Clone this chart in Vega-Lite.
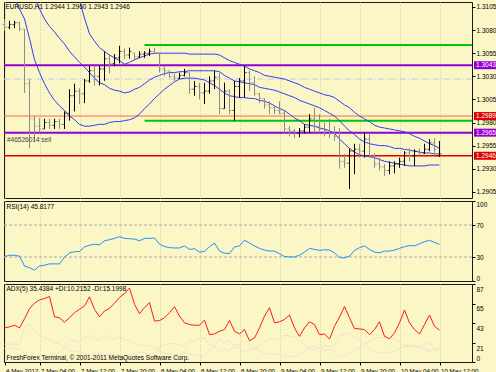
{
"$schema": "https://vega.github.io/schema/vega-lite/v6.json",
"background": "#fbf6c5",
"padding": {"left": 2, "top": 1, "right": 0, "bottom": 0},
"spacing": 1,
"config": {
  "view": {"stroke": "#1a1a1a", "strokeWidth": 1, "fill": "#fbf6c5"},
  "font": "Liberation Sans",
  "axis": {"title": null, "labelFont": "Liberation Sans", "labelFontSize": 6.5, "labelColor": "#000000", "tickColor": "#000000", "domain": false, "gridColor": "#cec794", "gridDash": [1, 2], "gridOpacity": 1, "labelOverlap": false, "tickCount": 50},
  "text": {"font": "Liberation Sans", "fontSize": 6.5}
},
"datasets": {
"b": [
{"i":0,"o":1.3086,"h":1.3092,"l":1.3079,"c":1.3083,"u":1.3172,"m":1.3157,"d":1.3139,"r":30.5,"a":38,"p":15,"n":20},
{"i":1,"o":1.3083,"h":1.3090,"l":1.3081,"c":1.3086,"u":1.3173,"m":1.3155,"d":1.3126,"r":32.2,"a":39.2,"p":15,"n":20},
{"i":2,"o":1.3086,"h":1.3090,"l":1.3082,"c":1.3088,"u":1.3174,"m":1.3150,"d":1.3114,"r":32.2,"a":41,"p":15,"n":20},
{"i":3,"o":1.3088,"h":1.3089,"l":1.3079,"c":1.3081,"u":1.3176,"m":1.3144,"d":1.3103,"r":31,"a":38,"p":15,"n":20},
{"i":4,"o":1.3081,"h":1.3081,"l":1.3012,"c":1.3022,"u":1.3179,"m":1.3135,"d":1.3092,"r":18.8,"a":48.2,"p":8,"n":38},
{"i":5,"o":1.3022,"h":1.3027,"l":1.2952,"c":1.2984,"u":1.3183,"m":1.3124,"d":1.3071,"r":16.5,"a":59.5,"p":5,"n":42},
{"i":6,"o":1.2984,"h":1.2987,"l":1.2960,"c":1.2976,"u":1.3187,"m":1.3114,"d":1.3048,"r":13.7,"a":65.6,"p":5,"n":36},
{"i":7,"o":1.2976,"h":1.2985,"l":1.2969,"c":1.2973,"u":1.3189,"m":1.3103,"d":1.3034,"r":18.8,"a":69.3,"p":6,"n":30},
{"i":8,"o":1.2973,"h":1.2984,"l":1.2973,"c":1.2980,"u":1.3187,"m":1.3092,"d":1.3022,"r":19.7,"a":70.8,"p":7,"n":27},
{"i":9,"o":1.2980,"h":1.2984,"l":1.2973,"c":1.2977,"u":1.3183,"m":1.3084,"d":1.3012,"r":21.4,"a":73.1,"p":8,"n":25},
{"i":10,"o":1.2977,"h":1.2984,"l":1.2973,"c":1.2981,"u":1.3176,"m":1.3078,"d":1.3004,"r":21.4,"a":50.5,"p":9,"n":22},
{"i":11,"o":1.2981,"h":1.2984,"l":1.2973,"c":1.2978,"u":1.3168,"m":1.3071,"d":1.2998,"r":21.4,"a":49.3,"p":10,"n":20},
{"i":12,"o":1.2978,"h":1.2992,"l":1.2973,"c":1.2990,"u":1.3157,"m":1.3065,"d":1.2993,"r":29.7,"a":44.4,"p":18,"n":16},
{"i":13,"o":1.2990,"h":1.3016,"l":1.2982,"c":1.3009,"u":1.3144,"m":1.3057,"d":1.2987,"r":35.2,"a":49.3,"p":25,"n":13},
{"i":14,"o":1.3009,"h":1.3022,"l":1.2992,"c":1.3014,"u":1.3128,"m":1.3051,"d":1.2983,"r":36.5,"a":55,"p":24,"n":12},
{"i":15,"o":1.3014,"h":1.3017,"l":1.3000,"c":1.3011,"u":1.3112,"m":1.3045,"d":1.2978,"r":37,"a":58.8,"p":22,"n":11},
{"i":16,"o":1.3011,"h":1.3027,"l":1.3001,"c":1.3025,"u":1.3093,"m":1.3040,"d":1.2976,"r":42.6,"a":62.5,"p":26,"n":10},
{"i":17,"o":1.3025,"h":1.3041,"l":1.3023,"c":1.3036,"u":1.3076,"m":1.3034,"d":1.2976,"r":44.7,"a":72.7,"p":30,"n":8},
{"i":18,"o":1.3036,"h":1.3041,"l":1.3020,"c":1.3030,"u":1.3068,"m":1.3028,"d":1.2977,"r":46,"a":58.8,"p":26,"n":9},
{"i":19,"o":1.3030,"h":1.3041,"l":1.3020,"c":1.3038,"u":1.3061,"m":1.3023,"d":1.2978,"r":45.2,"a":50.5,"p":24,"n":10},
{"i":20,"o":1.3038,"h":1.3057,"l":1.3025,"c":1.3049,"u":1.3057,"m":1.3021,"d":1.2978,"r":50.3,"a":56.9,"p":30,"n":8},
{"i":21,"o":1.3049,"h":1.3054,"l":1.3033,"c":1.3044,"u":1.3053,"m":1.3017,"d":1.2980,"r":51.6,"a":59.9,"p":27,"n":9},
{"i":22,"o":1.3044,"h":1.3054,"l":1.3041,"c":1.3050,"u":1.3050,"m":1.3015,"d":1.2981,"r":53.3,"a":65.6,"p":25,"n":8},
{"i":23,"o":1.3050,"h":1.3063,"l":1.3044,"c":1.3057,"u":1.3047,"m":1.3014,"d":1.2981,"r":55.5,"a":72,"p":28,"n":7},
{"i":24,"o":1.3057,"h":1.3060,"l":1.3049,"c":1.3053,"u":1.3043,"m":1.3012,"d":1.2982,"r":53.3,"a":76.5,"p":25,"n":7},
{"i":25,"o":1.3053,"h":1.3061,"l":1.3049,"c":1.3057,"u":1.3045,"m":1.3013,"d":1.2983,"r":52.9,"a":82.5,"p":24,"n":8},
{"i":26,"o":1.3055,"h":1.3055,"l":1.3047,"c":1.3051,"u":1.3048,"m":1.3016,"d":1.2985,"r":52.4,"a":64.4,"p":20,"n":9},
{"i":27,"o":1.3051,"h":1.3057,"l":1.3050,"c":1.3054,"u":1.3050,"m":1.3018,"d":1.2989,"r":50.3,"a":53.9,"p":18,"n":11},
{"i":28,"o":1.3054,"h":1.3057,"l":1.3050,"c":1.3055,"u":1.3052,"m":1.3022,"d":1.2995,"r":53.3,"a":60.6,"p":19,"n":10},
{"i":29,"o":1.3055,"h":1.3060,"l":1.3052,"c":1.3057,"u":1.3054,"m":1.3026,"d":1.3000,"r":53.3,"a":66.3,"p":18,"n":9},
{"i":30,"o":1.3057,"h":1.3061,"l":1.3054,"c":1.3055,"u":1.3055,"m":1.3029,"d":1.3006,"r":53.7,"a":45.6,"p":17,"n":9},
{"i":31,"o":1.3055,"h":1.3055,"l":1.3034,"c":1.3038,"u":1.3055,"m":1.3031,"d":1.3011,"r":46,"a":46.3,"p":12,"n":17},
{"i":32,"o":1.3038,"h":1.3041,"l":1.3030,"c":1.3036,"u":1.3055,"m":1.3033,"d":1.3016,"r":43,"a":49.3,"p":10,"n":19},
{"i":33,"o":1.3036,"h":1.3036,"l":1.3028,"c":1.3030,"u":1.3055,"m":1.3034,"d":1.3020,"r":41.7,"a":55,"p":9,"n":20},
{"i":34,"o":1.3030,"h":1.3033,"l":1.3025,"c":1.3028,"u":1.3055,"m":1.3034,"d":1.3024,"r":41.3,"a":61.8,"p":8,"n":21},
{"i":35,"o":1.3028,"h":1.3034,"l":1.3027,"c":1.3031,"u":1.3055,"m":1.3035,"d":1.3027,"r":41.3,"a":51.2,"p":9,"n":19},
{"i":36,"o":1.3031,"h":1.3038,"l":1.3030,"c":1.3034,"u":1.3055,"m":1.3035,"d":1.3028,"r":43.9,"a":43.7,"p":11,"n":17},
{"i":37,"o":1.3034,"h":1.3034,"l":1.3011,"c":1.3016,"u":1.3054,"m":1.3036,"d":1.3028,"r":39.5,"a":41.8,"p":8,"n":24},
{"i":38,"o":1.3016,"h":1.3025,"l":1.3009,"c":1.3019,"u":1.3054,"m":1.3036,"d":1.3028,"r":40.4,"a":41,"p":8,"n":23},
{"i":39,"o":1.3019,"h":1.3023,"l":1.3005,"c":1.3012,"u":1.3054,"m":1.3036,"d":1.3027,"r":36.1,"a":41,"p":7,"n":26},
{"i":40,"o":1.3012,"h":1.3023,"l":1.3000,"c":1.3014,"u":1.3054,"m":1.3036,"d":1.3026,"r":37,"a":46.7,"p":7,"n":27},
{"i":41,"o":1.3014,"h":1.3030,"l":1.3011,"c":1.3025,"u":1.3054,"m":1.3036,"d":1.3023,"r":43,"a":30.5,"p":14,"n":20},
{"i":42,"o":1.3025,"h":1.3036,"l":1.3016,"c":1.3029,"u":1.3054,"m":1.3036,"d":1.3020,"r":47.3,"a":31.3,"p":16,"n":17},
{"i":43,"o":1.3029,"h":1.3034,"l":1.2989,"c":1.2995,"u":1.3053,"m":1.3035,"d":1.3016,"r":37.4,"a":34.3,"p":12,"n":26},
{"i":44,"o":1.2995,"h":1.3023,"l":1.2995,"c":1.3014,"u":1.3050,"m":1.3031,"d":1.3012,"r":34.8,"a":36.2,"p":14,"n":22},
{"i":45,"o":1.3014,"h":1.3016,"l":1.2989,"c":1.2993,"u":1.3047,"m":1.3028,"d":1.3009,"r":34.3,"a":46.3,"p":12,"n":24},
{"i":46,"o":1.2993,"h":1.3025,"l":1.2982,"c":1.3019,"u":1.3045,"m":1.3025,"d":1.3008,"r":42.6,"a":34.3,"p":20,"n":17},
{"i":47,"o":1.3019,"h":1.3028,"l":1.3007,"c":1.3025,"u":1.3043,"m":1.3024,"d":1.3007,"r":43.9,"a":31.3,"p":19,"n":15},
{"i":48,"o":1.3025,"h":1.3041,"l":1.3007,"c":1.3034,"u":1.3041,"m":1.3023,"d":1.3007,"r":51,"a":36.2,"p":24,"n":12},
{"i":49,"o":1.3034,"h":1.3036,"l":1.3014,"c":1.3023,"u":1.3038,"m":1.3022,"d":1.3006,"r":47.5,"a":23.7,"p":20,"n":13},
{"i":50,"o":1.3023,"h":1.3030,"l":1.3009,"c":1.3011,"u":1.3036,"m":1.3021,"d":1.3006,"r":43.9,"a":26.7,"p":16,"n":15},
{"i":51,"o":1.3011,"h":1.3012,"l":1.3001,"c":1.3006,"u":1.3034,"m":1.3018,"d":1.3004,"r":40.8,"a":38,"p":12,"n":18},
{"i":52,"o":1.3006,"h":1.3006,"l":1.2995,"c":1.2999,"u":1.3031,"m":1.3017,"d":1.3003,"r":38.7,"a":51.2,"p":10,"n":22},
{"i":53,"o":1.2999,"h":1.3003,"l":1.2989,"c":1.2996,"u":1.3030,"m":1.3016,"d":1.3001,"r":37.4,"a":60.6,"p":9,"n":25},
{"i":54,"o":1.2996,"h":1.2998,"l":1.2989,"c":1.2993,"u":1.3029,"m":1.3015,"d":1.2998,"r":37.4,"a":43.7,"p":8,"n":26},
{"i":55,"o":1.2993,"h":1.3003,"l":1.2989,"c":1.2990,"u":1.3028,"m":1.3013,"d":1.2995,"r":34,"a":44.8,"p":9,"n":24},
{"i":56,"o":1.2990,"h":1.2993,"l":1.2968,"c":1.2973,"u":1.3027,"m":1.3011,"d":1.2993,"r":30.5,"a":47.5,"p":7,"n":30},
{"i":57,"o":1.2973,"h":1.2976,"l":1.2965,"c":1.2971,"u":1.3025,"m":1.3009,"d":1.2989,"r":30.1,"a":52.4,"p":6,"n":29},
{"i":58,"o":1.2971,"h":1.2973,"l":1.2963,"c":1.2968,"u":1.3023,"m":1.3007,"d":1.2985,"r":30.1,"a":38,"p":6,"n":28},
{"i":59,"o":1.2968,"h":1.2974,"l":1.2964,"c":1.2971,"u":1.3021,"m":1.3004,"d":1.2982,"r":32.2,"a":28.6,"p":8,"n":24},
{"i":60,"o":1.2971,"h":1.2978,"l":1.2968,"c":1.2975,"u":1.3018,"m":1.3002,"d":1.2978,"r":36.1,"a":38,"p":12,"n":20},
{"i":61,"o":1.2975,"h":1.2989,"l":1.2969,"c":1.2984,"u":1.3016,"m":1.3000,"d":1.2977,"r":40.8,"a":44.8,"p":16,"n":15},
{"i":62,"o":1.2984,"h":1.2996,"l":1.2969,"c":1.2976,"u":1.3014,"m":1.2998,"d":1.2976,"r":39.5,"a":41.8,"p":18,"n":14},
{"i":63,"o":1.2976,"h":1.2989,"l":1.2969,"c":1.2973,"u":1.3012,"m":1.2996,"d":1.2974,"r":38.3,"a":30.5,"p":16,"n":15},
{"i":64,"o":1.2973,"h":1.2980,"l":1.2965,"c":1.2971,"u":1.3010,"m":1.2993,"d":1.2973,"r":39.1,"a":31.3,"p":13,"n":18},
{"i":65,"o":1.2971,"h":1.2984,"l":1.2963,"c":1.2968,"u":1.3009,"m":1.2990,"d":1.2971,"r":38.7,"a":25.6,"p":14,"n":17},
{"i":66,"o":1.2968,"h":1.2976,"l":1.2960,"c":1.2965,"u":1.3007,"m":1.2987,"d":1.2968,"r":35.2,"a":39.9,"p":11,"n":19},
{"i":67,"o":1.2965,"h":1.2974,"l":1.2930,"c":1.2938,"u":1.3003,"m":1.2982,"d":1.2962,"r":29.2,"a":50.1,"p":7,"n":30},
{"i":68,"o":1.2938,"h":1.2946,"l":1.2931,"c":1.2936,"u":1.2999,"m":1.2976,"d":1.2957,"r":28.8,"a":61.8,"p":6,"n":31},
{"i":69,"o":1.2936,"h":1.2952,"l":1.2908,"c":1.2949,"u":1.2996,"m":1.2971,"d":1.2952,"r":31,"a":49.3,"p":10,"n":33},
{"i":70,"o":1.2949,"h":1.2957,"l":1.2924,"c":1.2951,"u":1.2991,"m":1.2967,"d":1.2948,"r":38.3,"a":37.3,"p":14,"n":27},
{"i":71,"o":1.2951,"h":1.2957,"l":1.2942,"c":1.2949,"u":1.2987,"m":1.2962,"d":1.2945,"r":41.7,"a":36.9,"p":16,"n":24},
{"i":72,"o":1.2949,"h":1.2969,"l":1.2942,"c":1.2962,"u":1.2984,"m":1.2959,"d":1.2944,"r":43.9,"a":36.2,"p":20,"n":20},
{"i":73,"o":1.2962,"h":1.2968,"l":1.2942,"c":1.2944,"u":1.2981,"m":1.2957,"d":1.2943,"r":39.5,"a":30.5,"p":14,"n":23},
{"i":74,"o":1.2944,"h":1.2947,"l":1.2931,"c":1.2935,"u":1.2977,"m":1.2956,"d":1.2942,"r":36.1,"a":36.2,"p":11,"n":27},
{"i":75,"o":1.2935,"h":1.2942,"l":1.2928,"c":1.2932,"u":1.2975,"m":1.2955,"d":1.2940,"r":35.2,"a":44.8,"p":10,"n":27},
{"i":76,"o":1.2932,"h":1.2935,"l":1.2922,"c":1.2928,"u":1.2974,"m":1.2955,"d":1.2938,"r":37.4,"a":28.6,"p":10,"n":28},
{"i":77,"o":1.2928,"h":1.2938,"l":1.2924,"c":1.2933,"u":1.2973,"m":1.2954,"d":1.2937,"r":37.4,"a":26,"p":11,"n":26},
{"i":78,"o":1.2933,"h":1.2938,"l":1.2925,"c":1.2935,"u":1.2972,"m":1.2952,"d":1.2936,"r":38.7,"a":32.4,"p":12,"n":25},
{"i":79,"o":1.2935,"h":1.2942,"l":1.2931,"c":1.2938,"u":1.2971,"m":1.2952,"d":1.2935,"r":40.8,"a":43.7,"p":15,"n":22},
{"i":80,"o":1.2938,"h":1.2949,"l":1.2933,"c":1.2947,"u":1.2970,"m":1.2951,"d":1.2934,"r":43,"a":58,"p":18,"n":18},
{"i":81,"o":1.2947,"h":1.2952,"l":1.2938,"c":1.2944,"u":1.2968,"m":1.2950,"d":1.2933,"r":44.3,"a":43.7,"p":17,"n":19},
{"i":82,"o":1.2944,"h":1.2951,"l":1.2933,"c":1.2949,"u":1.2965,"m":1.2949,"d":1.2933,"r":43.9,"a":36.2,"p":19,"n":17},
{"i":83,"o":1.2949,"h":1.2952,"l":1.2944,"c":1.2947,"u":1.2963,"m":1.2948,"d":1.2933,"r":46.5,"a":31.3,"p":17,"n":16},
{"i":84,"o":1.2947,"h":1.2957,"l":1.2946,"c":1.2951,"u":1.2960,"m":1.2947,"d":1.2933,"r":49.1,"a":41.8,"p":20,"n":14},
{"i":85,"o":1.2951,"h":1.2962,"l":1.2949,"c":1.2958,"u":1.2957,"m":1.2947,"d":1.2934,"r":50.9,"a":52.4,"p":22,"n":12},
{"i":86,"o":1.2958,"h":1.2963,"l":1.2947,"c":1.2951,"u":1.2955,"m":1.2946,"d":1.2934,"r":48.2,"a":39.9,"p":14,"n":15},
{"i":87,"o":1.2944,"h":1.2960,"l":1.2943,"c":1.2946,"u":1.2952,"m":1.2946,"d":1.2934,"r":45.8177,"a":35.4384,"p":10.2152,"n":15.1998}
],
"lv": [
{"k":"trend","p":1.3064,"i":28,"b":93.5},
{"k":"level","p":1.3042,"i":-0.1,"b":93.5},
{"k":"ref","p":1.3027,"i":-0.1,"b":93.5},
{"k":"alert","p":1.2987,"i":-0.1,"b":93.5},
{"k":"trend","p":1.2982,"i":28,"b":93.5},
{"k":"level","p":1.2969,"i":-0.1,"b":93.5},
{"k":"price","p":1.2944,"i":-0.1,"b":93.5}
],
"bx": [
{"k":"level","p":1.3042,"t":"1.3043"},
{"k":"alert","p":1.2987,"t":"1.2989"},
{"k":"level","p":1.2969,"t":"1.2965"},
{"k":"price","p":1.2944,"t":"1.2946"}
]
},
"vconcat": [
{
 "width": 468, "height": 196,
 "layer": [
  {"data": {"name": "lv"}, "transform": [{"filter": "datum.k == 'ref'"}],
   "mark": {"type": "rule", "color": "#c3c8ea", "strokeWidth": 1, "strokeDash": [6, 2, 1, 2]},
   "encoding": {
    "x": {"field": "i", "type": "quantitative", "scale": {"domain": [-0.1, 93.5], "nice": false, "zero": false},
          "axis": {"values": [0,7,15,23,31,39,47,55,63,71,79,87], "tickCount": 50, "labels": false, "ticks": false, "grid": true}},
    "x2": {"field": "b"},
    "y": {"field": "p", "type": "quantitative", "scale": {"domain": [1.28983, 1.31104], "nice": false, "zero": false},
          "axis": {"orient": "right", "values": [1.3105,1.308,1.3055,1.303,1.3005,1.298,1.2955,1.293,1.2905], "tickCount": 50, "format": ".4f", "tickSize": 3, "labelPadding": 1, "grid": false, "labelBaseline": "middle", "labelOverlap": false}}
   }},
  {"data": {"name": "lv"}, "transform": [{"filter": "datum.k == 'alert'"}],
   "mark": {"type": "rule", "color": "#ff6a4d", "strokeWidth": 1},
   "encoding": {"x": {"field": "i", "type": "quantitative"}, "x2": {"field": "b"}, "y": {"field": "p", "type": "quantitative"}}},
  {"data": {"name": "lv"}, "transform": [{"filter": "datum.k == 'trend'"}],
   "mark": {"type": "rule", "color": "#00c800", "strokeWidth": 2},
   "encoding": {"x": {"field": "i", "type": "quantitative"}, "x2": {"field": "b"}, "y": {"field": "p", "type": "quantitative"}}},
  {"data": {"name": "lv"}, "transform": [{"filter": "datum.k == 'level'"}],
   "mark": {"type": "rule", "color": "#9400d3", "strokeWidth": 2},
   "encoding": {"x": {"field": "i", "type": "quantitative"}, "x2": {"field": "b"}, "y": {"field": "p", "type": "quantitative"}}},
  {"data": {"name": "lv"}, "transform": [{"filter": "datum.k == 'price'"}],
   "mark": {"type": "rule", "color": "#e00000", "strokeWidth": 1.5},
   "encoding": {"x": {"field": "i", "type": "quantitative"}, "x2": {"field": "b"}, "y": {"field": "p", "type": "quantitative"}}},
  {"data": {"name": "b"}, "mark": {"type": "line", "color": "#2f3cff", "strokeWidth": 1, "clip": true},
   "encoding": {"x": {"field": "i", "type": "quantitative"}, "y": {"field": "u", "type": "quantitative"}}},
  {"data": {"name": "b"}, "mark": {"type": "line", "color": "#2f3cff", "strokeWidth": 1, "clip": true},
   "encoding": {"x": {"field": "i", "type": "quantitative"}, "y": {"field": "m", "type": "quantitative"}}},
  {"data": {"name": "b"}, "mark": {"type": "line", "color": "#2f3cff", "strokeWidth": 1, "clip": true},
   "encoding": {"x": {"field": "i", "type": "quantitative"}, "y": {"field": "d", "type": "quantitative"}}},
  {"data": {"name": "b"}, "mark": {"type": "rule", "strokeWidth": 1},
   "encoding": {"x": {"field": "i", "type": "quantitative"}, "y": {"field": "h", "type": "quantitative"}, "y2": {"field": "l"},
     "color": {"condition": {"test": "datum.c < datum.o", "value": "#8c8c8c"}, "value": "#000000"}}},
  {"data": {"name": "b"}, "mark": {"type": "tick", "orient": "horizontal", "size": 2, "thickness": 1, "xOffset": -1},
   "encoding": {"x": {"field": "i", "type": "quantitative"}, "y": {"field": "o", "type": "quantitative"},
     "color": {"condition": {"test": "datum.c < datum.o", "value": "#8c8c8c"}, "value": "#000000"}}},
  {"data": {"name": "b"}, "mark": {"type": "tick", "orient": "horizontal", "size": 2, "thickness": 1, "xOffset": 1},
   "encoding": {"x": {"field": "i", "type": "quantitative"}, "y": {"field": "c", "type": "quantitative"},
     "color": {"condition": {"test": "datum.c < datum.o", "value": "#8c8c8c"}, "value": "#000000"}}},
  {"data": {"values": [{}]}, "mark": {"type": "text", "text": "EURUSD,H1  1.2944 1.2960 1.2943 1.2946", "align": "left", "baseline": "middle", "color": "#000000", "fontSize": 6.5},
   "encoding": {"x": {"datum": 0.2, "type": "quantitative"}, "y": {"datum": 1.3105, "type": "quantitative"}}},
  {"data": {"values": [{}]}, "mark": {"type": "text", "text": "#46526014 sell", "align": "left", "baseline": "middle", "color": "#404040", "fontSize": 6.5},
   "encoding": {"x": {"datum": 0.5, "type": "quantitative"}, "y": {"datum": 1.2961, "type": "quantitative"}}},
  {"data": {"name": "bx"}, "mark": {"type": "tick", "orient": "horizontal", "size": 24, "thickness": 8, "clip": false, "opacity": 1},
   "encoding": {"x": {"datum": 96.3, "type": "quantitative"}, "y": {"field": "p", "type": "quantitative"},
     "color": {"condition": {"test": "datum.k == 'level'", "value": "#9400d3"}, "value": "#e00000"}}},
  {"data": {"name": "bx"}, "mark": {"type": "text", "align": "center", "baseline": "middle", "color": "#ffffff", "fontSize": 6.5, "clip": false},
   "encoding": {"x": {"datum": 96.3, "type": "quantitative"}, "y": {"field": "p", "type": "quantitative"}, "text": {"field": "t"}}}
 ]
},
{
 "width": 468, "height": 80,
 "layer": [
  {"data": {"values": [{"lvl": 70}, {"lvl": 30}]},
   "mark": {"type": "rule", "color": "#aaaaaa", "strokeDash": [3, 2], "strokeWidth": 1},
   "encoding": {"y": {"field": "lvl", "type": "quantitative", "scale": {"domain": [0, 100], "nice": false},
     "axis": {"orient": "right", "values": [100, 70, 30, 0], "tickCount": 50, "labelFlush": true, "labelOverlap": false, "tickSize": 3, "labelPadding": 1, "grid": false}}}},
  {"data": {"name": "b"}, "mark": {"type": "line", "color": "#1e90ff", "strokeWidth": 1},
   "encoding": {
    "x": {"field": "i", "type": "quantitative", "scale": {"domain": [-0.1, 93.5], "nice": false, "zero": false},
          "axis": {"values": [0,7,15,23,31,39,47,55,63,71,79,87], "tickCount": 50, "labels": false, "ticks": false, "grid": true}},
    "y": {"field": "r", "type": "quantitative"}}},
  {"data": {"values": [{}]}, "mark": {"type": "text", "text": "RSI(14) 45.8177", "align": "left", "baseline": "middle", "color": "#000000", "fontSize": 6.5},
   "encoding": {"x": {"datum": 0.4, "type": "quantitative"}, "y": {"datum": 92.5, "type": "quantitative"}}}
 ]
},
{
 "width": 468, "height": 78,
 "layer": [
  {"data": {"name": "b"}, "mark": {"type": "line", "color": "#f6e2cc", "strokeWidth": 1},
   "encoding": {
    "x": {"field": "i", "type": "quantitative", "scale": {"domain": [-0.1, 93.5], "nice": false, "zero": false},
          "axis": {"values": [0,7,15,23,31,39,47,55,63,71,79,87], "tickCount": 50,
                   "labelExpr": "['4 May 2012','7 May 04:00','7 May 12:00','7 May 20:00','8 May 04:00','8 May 12:00','8 May 20:00','9 May 04:00','9 May 12:00','9 May 20:00','10 May 04:00','10 May 12:00'][indexof([0,7,15,23,31,39,47,55,63,71,79,87], datum.value)]",
                   "labelAlign": "left", "labelBaseline": "top", "labelOffset": 1, "labelFlush": false, "labelOverlap": false, "labelBound": false, "labelFontSize": 6.2,
                   "tickSize": 3, "labelPadding": 2, "grid": true}},
    "y": {"field": "p", "type": "quantitative", "scale": {"domain": [0, 87], "nice": false, "zero": false},
          "axis": {"orient": "right", "values": [87, 65, 43, 21, 0], "tickCount": 50, "labelFlush": false, "labelOverlap": false,
                   "labelBaseline": {"condition": {"test": "datum.value == 0", "value": "bottom"}, "value": "top"},
                   "labelOffset": {"condition": {"test": "datum.value == 0", "value": -1}, "value": 2},
                   "tickSize": 3, "labelPadding": 1, "grid": false}}}},
  {"data": {"name": "b"}, "mark": {"type": "line", "color": "#f7dcd4", "strokeWidth": 1},
   "encoding": {"x": {"field": "i", "type": "quantitative"}, "y": {"field": "n", "type": "quantitative"}}},
  {"data": {"name": "b"}, "mark": {"type": "line", "color": "#ff1a1a", "strokeWidth": 1},
   "encoding": {"x": {"field": "i", "type": "quantitative"}, "y": {"field": "a", "type": "quantitative"}}},
  {"data": {"values": [{}]}, "mark": {"type": "text", "text": "ADX(5) 35.4384 +DI:10.2152 -DI:15.1998", "align": "left", "baseline": "middle", "color": "#000000", "fontSize": 6.5},
   "encoding": {"x": {"datum": 0.4, "type": "quantitative"}, "y": {"datum": 81.5, "type": "quantitative"}}},
  {"data": {"values": [{}]}, "mark": {"type": "text", "text": "FreshForex Terminal, © 2001-2011 MetaQuotes Software Corp.", "align": "left", "baseline": "middle", "color": "#000000", "fontSize": 6.5},
   "encoding": {"x": {"datum": 0.4, "type": "quantitative"}, "y": {"datum": 5, "type": "quantitative"}}}
 ]
}
]
}
